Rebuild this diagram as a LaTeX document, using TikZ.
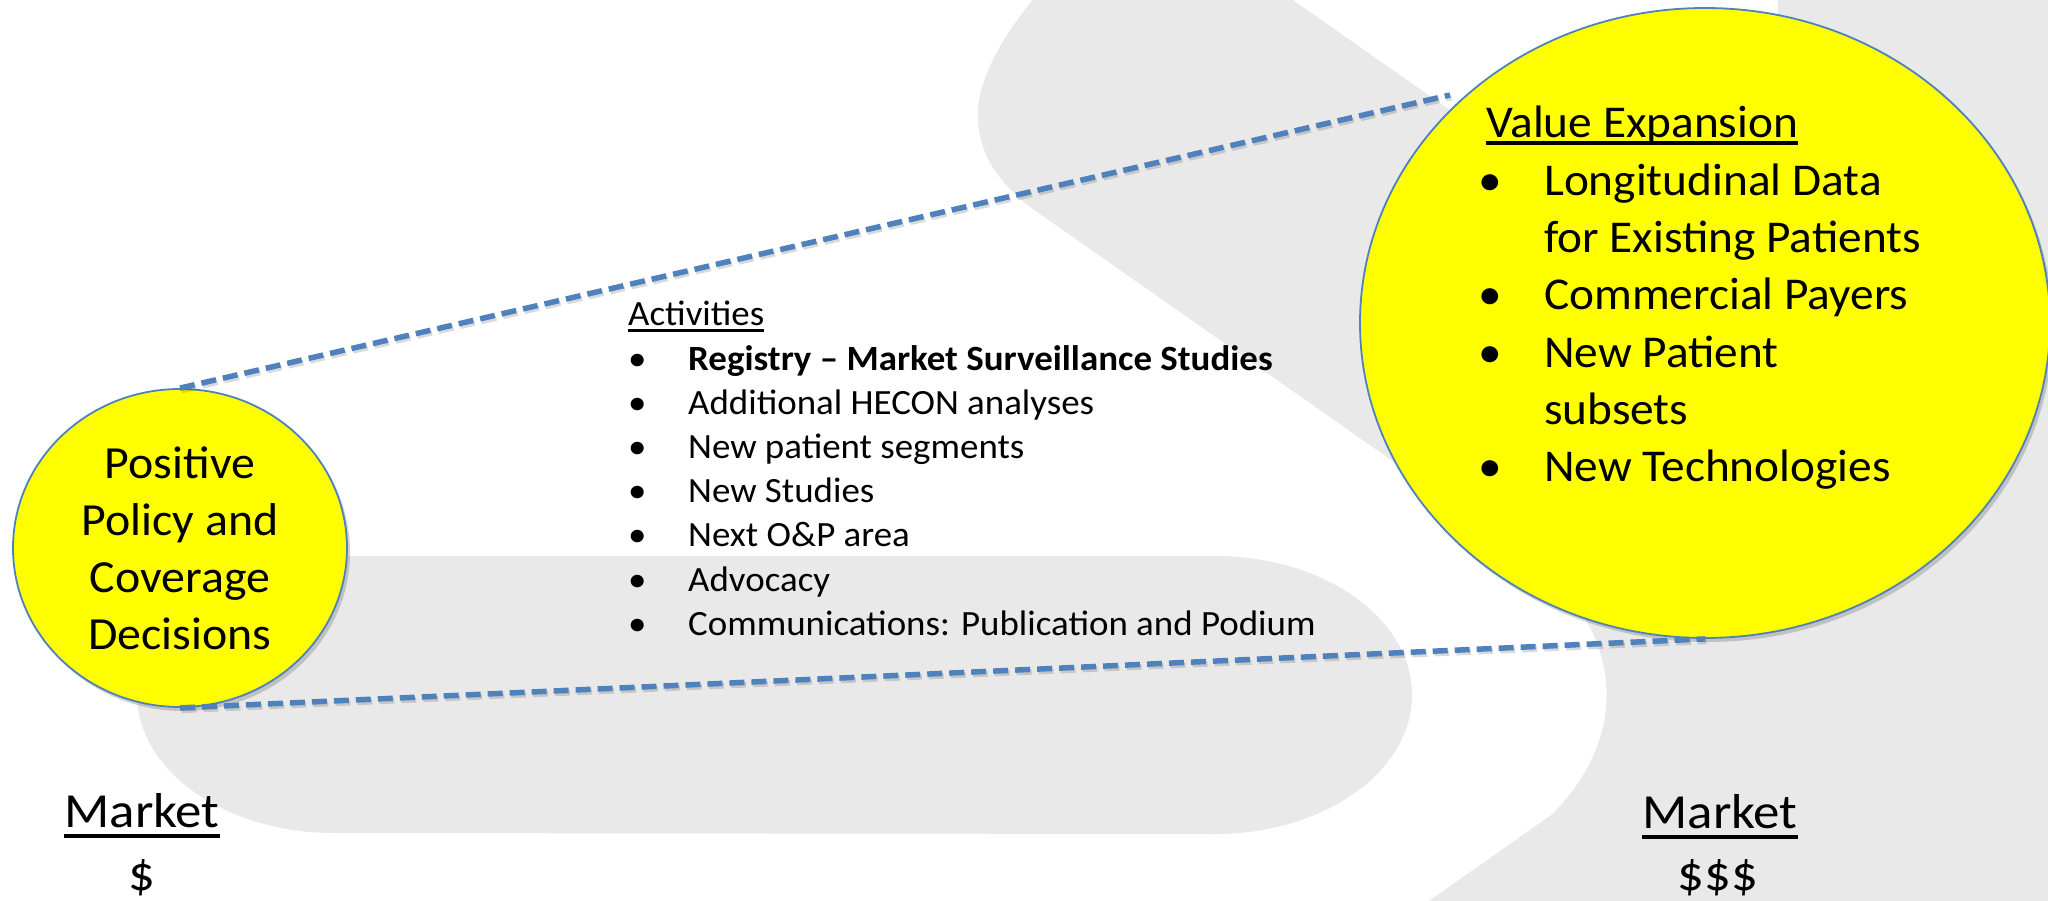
\documentclass[tikz,border=0pt]{standalone}
\usepackage{fontspec}
\setmainfont{Carlito}[FakeStretch=1.04]
\newfontfamily\mkfont{Carlito}[FakeStretch=1.08]
\usetikzlibrary{shapes.geometric,shadows}
\definecolor{bggrey}{HTML}{E9E9E9}
\definecolor{lineblue}{HTML}{4F81BD}
\definecolor{circyellow}{HTML}{FFFF00}
\newcommand\myuline[3]{\setbox0=\hbox{#3}\rlap{\rule[-#1]{\wd0}{#2}}\box0}
\newcommand\rbul{\hspace*{-8pt}•}
\begin{document}
\begin{tikzpicture}[x=1pt,y=-1pt,
  bgshape/.style={fill=bggrey},
  dashline/.style={draw=lineblue, line width=5.5pt, dash pattern=on 15pt off 7pt},
  dashshadow/.style={draw=black, opacity=0.15, line width=5.5pt, dash pattern=on 15pt off 7pt},
  bubble/.style={ellipse, draw=lineblue, line width=1.8pt, fill=circyellow, inner sep=0pt,
    drop shadow={shadow xshift=3pt, shadow yshift=-4pt, opacity=0.3, fill=black!60}},
  txt/.style={inner sep=0pt, text=black}]
\useasboundingbox (0,0) rectangle (2048,901);
\fill[white] (0,0) rectangle (2048,901);
\begin{scope}
  \clip (0,0) rectangle (2048,901);
  % lower stadium
  \fill[bgshape] (334,556) -- (1215,556)
     arc[start angle=-90, end angle=90, x radius=197, y radius=139]
     -- (334,833)
     arc[start angle=90, end angle=270, x radius=197, y radius=139] -- cycle;
  % large chevron shape
  \fill[bgshape] (1030,207) -- (1541,565)
     arc[start angle=-33.6, end angle=30.4, x radius=393, y radius=235]
     -- (1345,960) -- (2100,960) -- (2100,-60) -- (1778,-60) -- (1778,340)
     -- (1150,-100) .. controls (1070,-55) and (985,40) .. (978,107)
     .. controls (976,145) and (990,175) .. (1030,207) -- cycle;
\end{scope}

% circles
\node[bubble, minimum width=334pt, minimum height=318pt, align=center,
      font=\fontsize{46}{57}\selectfont] (L) at (180,548)
      {Positive\\Policy and\\Coverage\\Decisions};
\node[bubble, minimum width=690pt, minimum height=630pt] (R) at (1705,323) {};

% value expansion text
\node[txt, anchor=base west, font=\fontsize{45.5}{57.3}\selectfont] (rt) at (1486,138)
 {\begin{tabular}[t]{@{}p{58pt}@{}l@{}}
  \multicolumn{2}{@{}l@{}}{\myuline{7pt}{3.8pt}{Value Expansion}}\\
  \rbul&Longitudinal Data\\
   &for Existing Patients\\
  \rbul&Commercial Payers\\
  \rbul&New Patient\\
   &subsets\\
  \rbul&New Technologies
  \end{tabular}};

% activities text
\node[txt, anchor=base west, font=\fontsize{35.5}{44.2}\selectfont] (act) at (628,326)
 {\begin{tabular}[t]{@{}p{60pt}@{}l@{}}
  \multicolumn{2}{@{}l@{}}{\myuline{6pt}{2.7pt}{Activities}}\\
  •&\textbf{Registry – Market Surveillance Studies}\\
  •&Additional HECON analyses\\
  •&New patient segments\\
  •&New Studies\\
  •&Next O\&P area\\
  •&Advocacy\\
  •&Communications: Publication and Podium
  \end{tabular}};

% dashed connectors
\coordinate (uend) at (1450,95);
\begin{scope}[transform canvas={xshift=1.5pt,yshift=-2.5pt}]
  \draw[dashshadow] (L.north) -- (uend);
  \draw[dashshadow] (L.south) -- (R.south);
\end{scope}
\draw[dashline] (L.north) -- (uend);
\draw[dashline] (L.south) -- (R.south);

% market labels
\node[txt, anchor=base, font=\mkfont\fontsize{49}{55}\selectfont] (ml) at (142,827) {\myuline{11pt}{4pt}{Market}};
\node[txt, anchor=base, font=\mkfont\fontsize{49}{55}\selectfont] (dl) at (142,890) {\$};
\node[txt, anchor=base, font=\mkfont\fontsize{49}{55}\selectfont] (mr) at (1720,828) {\myuline{11pt}{4pt}{Market}};
\node[txt, anchor=base, font=\mkfont\fontsize{49}{55}\selectfont] (dr) at (1718,890) {\$\$\$};
\end{tikzpicture}
\end{document}
